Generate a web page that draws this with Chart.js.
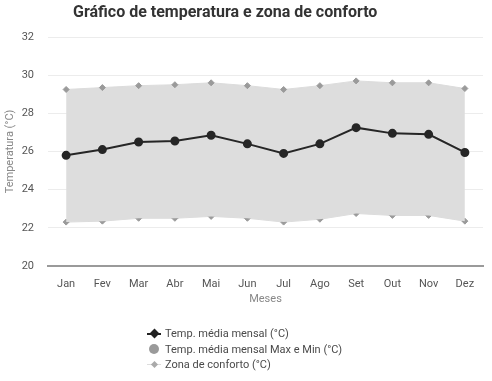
<!DOCTYPE html>
<html>
<head>
<meta charset="utf-8">
<script src="https://cdn.jsdelivr.net/npm/chart.js@4/dist/chart.umd.min.js"></script>
<style>
  html,body{margin:0;padding:0;background:#fff;}
  #wrap{position:relative;width:492px;height:381px;overflow:hidden;font-family:Roboto,"Noto Sans",sans-serif;}
  #c{position:absolute;left:0;top:0;}
  #title{position:absolute;left:73px;top:2px;font-size:16px;font-weight:bold;color:#333;white-space:nowrap;}
  #legend{position:absolute;left:146px;top:326px;font-size:11px;color:#4a4a4a;}
  .li{height:15.5px;line-height:15.5px;display:flex;align-items:center;white-space:nowrap;}
  .mk{position:relative;width:16px;height:15px;margin-right:3px;}
</style>
</head>
<body>
<div id="wrap">
  <canvas id="c" width="492" height="381"></canvas>
  <div id="title">Gráfico de temperatura e zona de conforto</div>
  <div id="legend"></div>
</div>
<script>
const months = ["Jan","Fev","Mar","Abr","Mai","Jun","Jul","Ago","Set","Out","Nov","Dez"];
const meanTemp = [25.8, 26.1, 26.5, 26.55, 26.85, 26.4, 25.9, 26.4, 27.25, 26.95, 26.9, 25.95];
const maxMinTemp = [];
const comfortUpper = [29.25, 29.35, 29.45, 29.5, 29.6, 29.45, 29.25, 29.45, 29.7, 29.6, 29.6, 29.3];
const comfortLower = [22.3, 22.35, 22.5, 22.5, 22.6, 22.5, 22.3, 22.45, 22.75, 22.65, 22.65, 22.35];
const yTicks = [20, 22, 24, 26, 28, 30, 32];

const seriesNames = ["Temp. média mensal (°C)", "Temp. média mensal Max e Min (°C)", "Zona de conforto (°C)"];

const ctx = document.getElementById('c');
new Chart(ctx, {
  type: 'line',
  data: {
    labels: months,
    datasets: [
      {
        label: seriesNames[0],
        data: meanTemp,
        borderColor: '#262626',
        backgroundColor: '#262626',
        borderWidth: 2,
        pointRadius: 3.5,
        pointHoverRadius: 3.5,
        fill: false,
        tension: 0,
        order: 0
      },
      {
        label: seriesNames[1],
        data: maxMinTemp,
        borderColor: '#999',
        backgroundColor: '#999',
        pointRadius: 5,
        fill: false,
        order: 1
      },
      {
        label: seriesNames[2],
        data: comfortUpper,
        borderColor: 'rgba(220,220,220,1)',
        backgroundColor: 'rgba(221,221,221,1)',
        borderWidth: 1,
        pointStyle: 'rectRot',
        pointRadius: 3,
        pointBackgroundColor: '#9a9a9a',
        pointBorderColor: '#9a9a9a',
        fill: '+1',
        tension: 0,
        order: 2
      },
      {
        label: seriesNames[2] + ' min',
        data: comfortLower,
        borderColor: 'rgba(220,220,220,1)',
        backgroundColor: 'rgba(221,221,221,1)',
        borderWidth: 1,
        pointStyle: 'rectRot',
        pointRadius: 3,
        pointBackgroundColor: '#9a9a9a',
        pointBorderColor: '#9a9a9a',
        fill: false,
        tension: 0,
        order: 2
      }
    ]
  },
  options: {
    responsive: false,
    animation: false,
    devicePixelRatio: 1,
    layout: { padding: { left: 0, right: 9, top: 37, bottom: 66 } },
    plugins: {
      legend: { display: false },
      title: { display: false },
      tooltip: { enabled: false }
    },
    scales: {
      x: {
        offset: true,
        grid: { display: false, drawTicks: false },
        border: { display: true, color: '#9a9a9a', width: 2 },
        ticks: { color: '#555', font: { family: 'Roboto', size: 11 }, padding: 12, maxRotation: 0 },
        title: { display: true, text: 'Meses', color: '#888', font: { family: 'Roboto', size: 11 }, padding: { top: 0, bottom: 9 } },
        afterFit: (s) => { s.height = 49; }
      },
      y: {
        min: 20,
        max: 32,
        afterBuildTicks: (s) => { s.ticks = yTicks.map(v => ({ value: v })); },
        grid: { color: '#ececec', drawTicks: false, lineWidth: 1 },
        border: { display: false },
        ticks: { color: '#555', font: { family: 'Roboto', size: 11 }, padding: 14 },
        title: { display: true, text: 'Temperatura (°C)', color: '#888', font: { family: 'Roboto', size: 11 }, padding: { top: 4, bottom: 0 } },
        afterFit: (s) => { s.width = 48; }
      }
    }
  }
});

// HTML legend built from the series names
const legend = document.getElementById('legend');
const markers = [
  '<span style="position:absolute;left:1px;top:6.5px;width:14px;height:2px;background:#222"></span><span style="position:absolute;left:4.5px;top:4px;width:7px;height:7px;background:#222;transform:rotate(45deg)"></span>',
  '<span style="position:absolute;left:3px;top:2.5px;width:10px;height:10px;border-radius:50%;background:#9a9a9a"></span>',
  '<span style="position:absolute;left:1px;top:7px;width:14px;height:1px;background:#ddd"></span><span style="position:absolute;left:5.5px;top:5px;width:5px;height:5px;background:#aaa;transform:rotate(45deg)"></span>'
];
seriesNames.forEach((n, i) => {
  const d = document.createElement('div');
  d.className = 'li';
  d.innerHTML = '<span class="mk">' + markers[i] + '</span><span>' + n + '</span>';
  legend.appendChild(d);
});
</script>
</body>
</html>
